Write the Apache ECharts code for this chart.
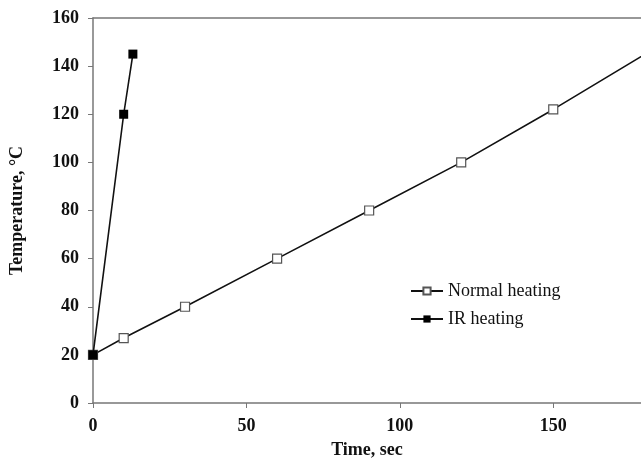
<!DOCTYPE html>
<html><head><meta charset="utf-8">
<script src="https://cdn.jsdelivr.net/npm/echarts@6/dist/echarts.min.js"></script>
<style>html,body{margin:0;padding:0;background:#fff}#c{width:641px;height:465px}</style>
</head><body><div id="c"></div>
<script>
const normalX = [0, 10, 30, 60, 90, 120, 150, 180];
const normalY = [20, 27, 40, 60, 80, 100, 122, 145];
const irX = [0, 10, 13];
const irY = [20, 120, 145];
const xTicks = [0, 50, 100, 150];
const yTicks = [0, 20, 40, 60, 80, 100, 120, 140, 160];
const seriesNames = ['Normal heating', 'IR heating'];

const F = 'Liberation Serif';
const chart = echarts.init(document.getElementById('c'), null, {renderer: 'canvas'});
chart.setOption({
  animation: false,
  backgroundColor: '#fff',
  grid: {left: 92, top: 18, bottom: 62, right: 0},
  legend: {
    left: 405, top: 277, orient: 'vertical', itemGap: 10,
    itemWidth: 32, itemHeight: 9,
    textStyle: {fontFamily: F, fontSize: 18, color: '#111'},
    data: seriesNames
  },
  xAxis: [{
    type: 'value', min: 0, max: 178.6,
    name: 'Time, sec', nameLocation: 'middle', nameGap: 38,
    nameTextStyle: {fontFamily: F, fontSize: 18, fontWeight: 'bold', color: '#111', align: 'center'},
    axisLine: {show: true, lineStyle: {color: '#777', width: 1.5}},
    axisTick: {show: true, length: 5, lineStyle: {color: '#777'}, customValues: xTicks},
    axisLabel: {fontFamily: F, fontSize: 18, fontWeight: 'bold', color: '#111', margin: 14, customValues: xTicks},
    splitLine: {show: false}
  }, {
    type: 'value', position: 'top', min: 0, max: 178.6,
    axisLine: {show: true, lineStyle: {color: '#777', width: 1.5}},
    axisTick: {show: false}, axisLabel: {show: false}, splitLine: {show: false}
  }],
  yAxis: {
    type: 'value', min: 0, max: 160, interval: 20,
    name: 'Temperature, °C', nameLocation: 'middle', nameGap: 67, nameRotate: 90,
    nameTextStyle: {fontFamily: F, fontSize: 18, fontWeight: 'bold', color: '#111'},
    axisLine: {show: true, lineStyle: {color: '#777', width: 1.5}},
    axisTick: {show: true, length: 5, lineStyle: {color: '#777'}, customValues: yTicks},
    axisLabel: {fontFamily: F, fontSize: 18, fontWeight: 'bold', color: '#111', margin: 14, customValues: yTicks},
    splitLine: {show: false}
  },
  series: [{
    name: seriesNames[0], type: 'line',
    data: normalX.map((x, i) => [x, normalY[i]]),
    symbol: 'rect', symbolSize: 9, showAllSymbol: true,
    lineStyle: {color: '#111', width: 1.6},
    itemStyle: {color: '#fff', borderColor: '#555', borderWidth: 1.2},
    z: 3
  }, {
    name: seriesNames[1], type: 'line',
    data: irX.map((x, i) => [x, irY[i]]),
    symbol: 'rect', symbolSize: 9,
    lineStyle: {color: '#111', width: 1.6},
    itemStyle: {color: '#000', borderColor: '#000', borderWidth: 0},
    z: 4
  }]
});
</script></body></html>
